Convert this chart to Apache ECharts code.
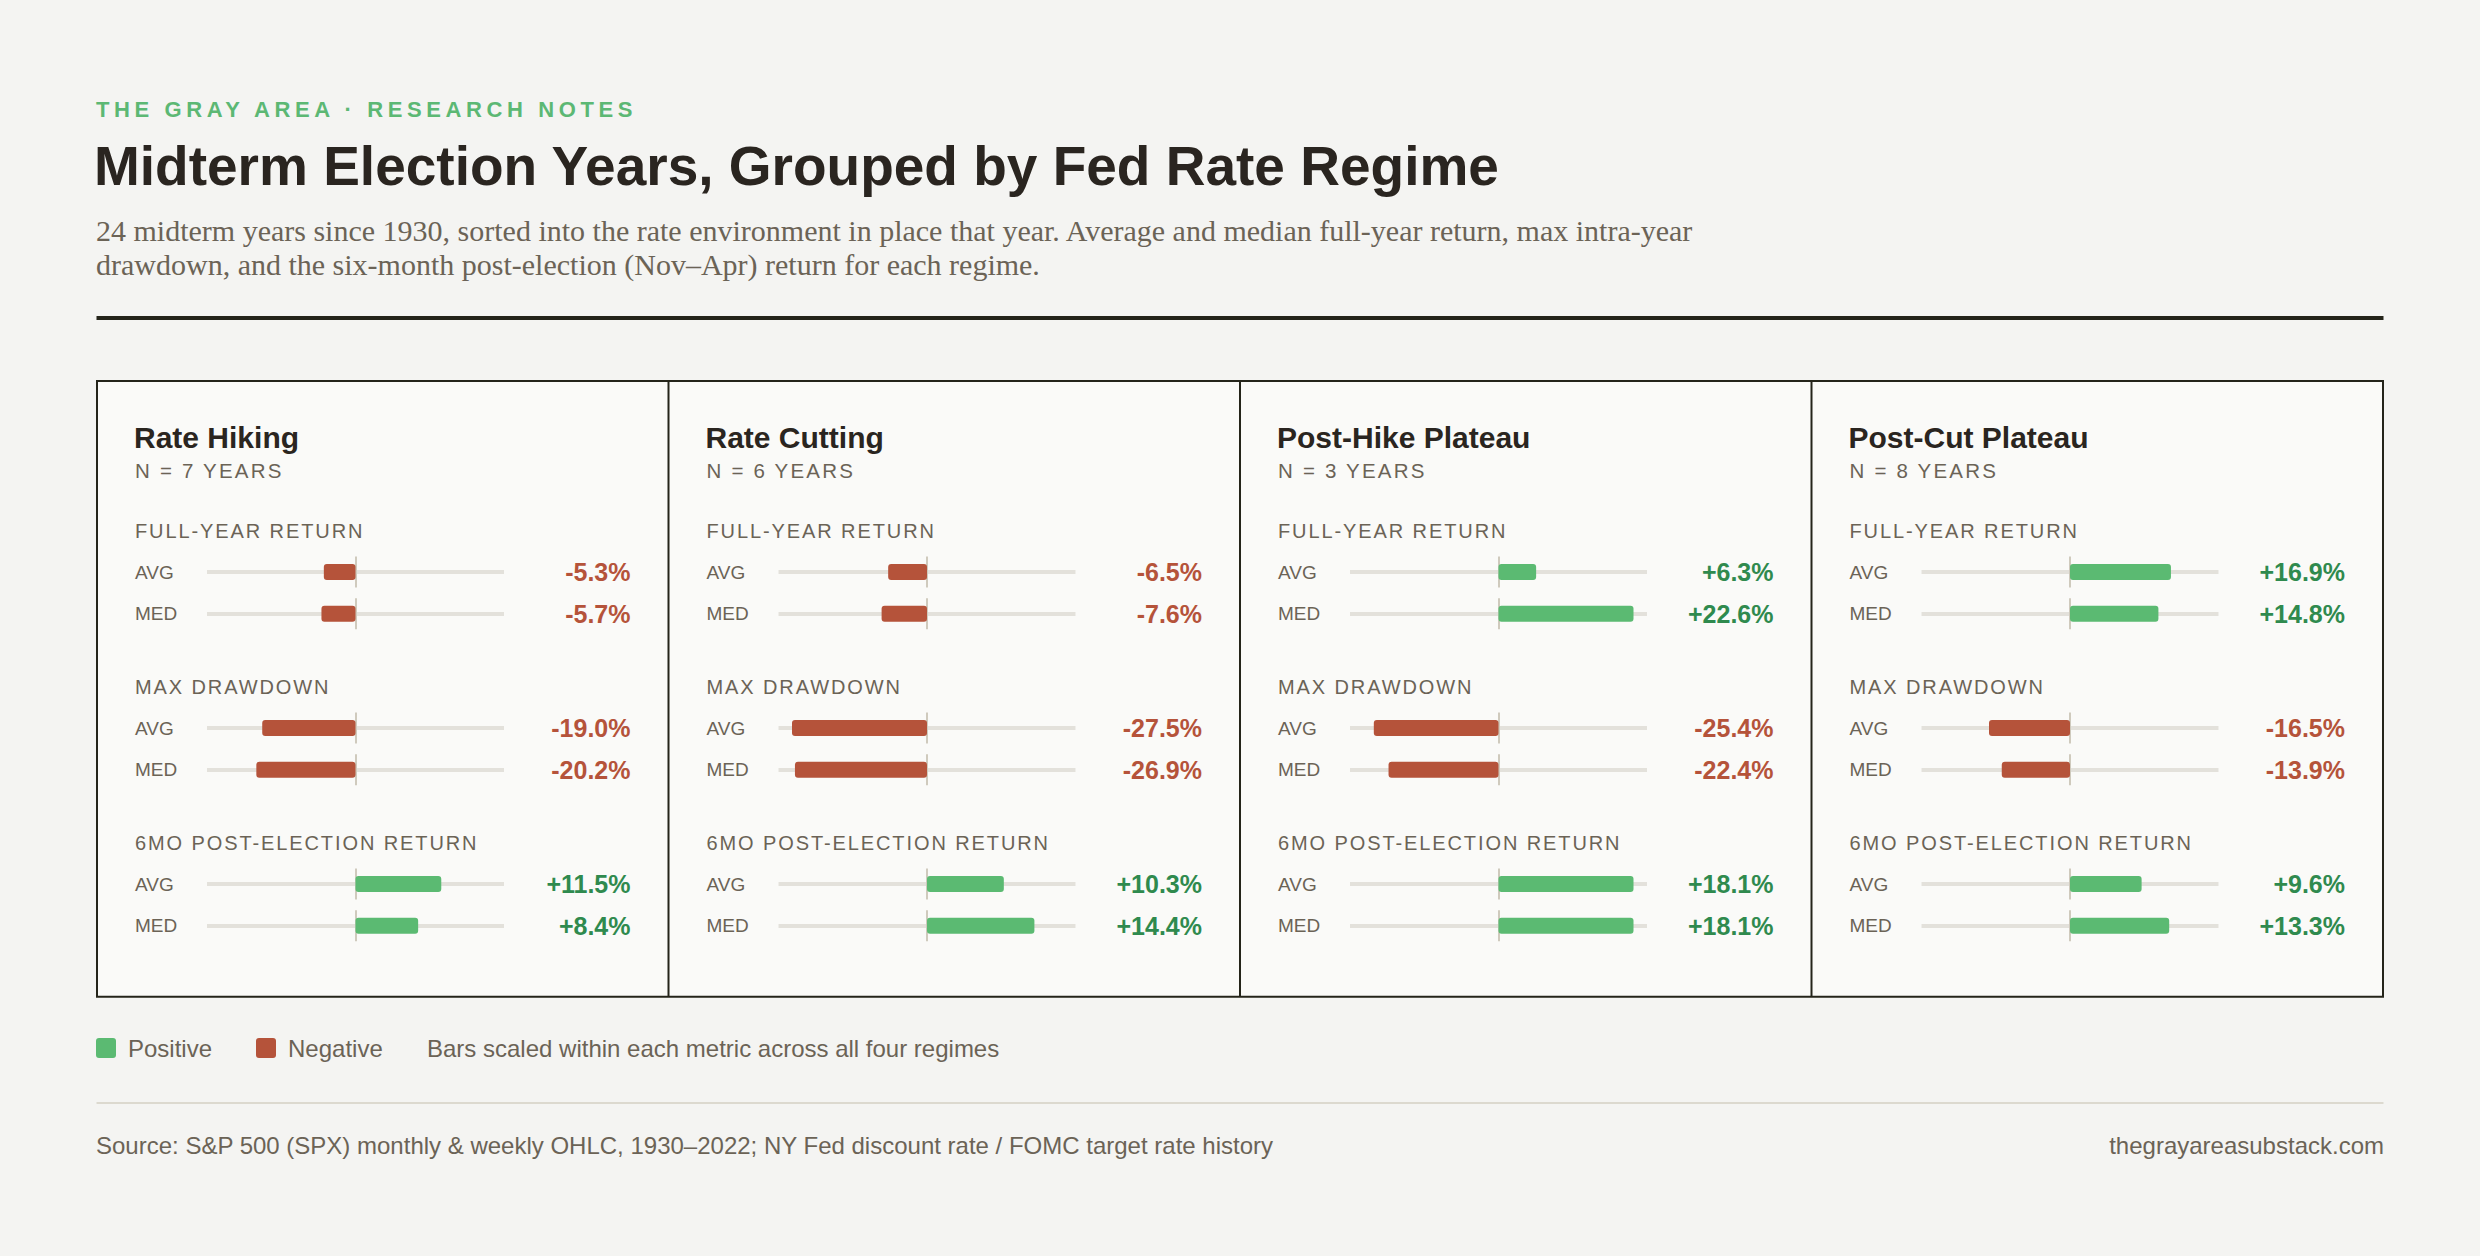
<!DOCTYPE html>
<html>
<head>
<meta charset="utf-8">
<script src="https://cdn.jsdelivr.net/npm/echarts@6/dist/echarts.min.js"></script>
<style>
html, body { margin: 0; padding: 0; background: #f4f4f2; }
#chart { width: 2480px; height: 1256px; }
</style>
</head>
<body>
<div id="chart"></div>
<script>
// regimes and sample sizes
var regimes = ['Rate Hiking', 'Rate Cutting', 'Post-Hike Plateau', 'Post-Cut Plateau'];
var yearCounts = [7, 6, 3, 8];
var metricNames = ['FULL-YEAR RETURN', 'MAX DRAWDOWN', '6MO POST-ELECTION RETURN'];
var rowLabels = ['AVG', 'MED'];

// values in %, one per regime
var fullYearAvg = [-5.3, -6.5, 6.3, 16.9];
var fullYearMed = [-5.7, -7.6, 22.6, 14.8];
var drawdownAvg = [-19.0, -27.5, -25.4, -16.5];
var drawdownMed = [-20.2, -26.9, -22.4, -13.9];
var postElecAvg = [11.5, 10.3, 18.1, 9.6];
var postElecMed = [8.4, 14.4, 18.1, 13.3];

var metricAvg = [fullYearAvg, drawdownAvg, postElecAvg];
var metricMed = [fullYearMed, drawdownMed, postElecMed];

var FONT = "'Liberation Sans', Arial, sans-serif";
var SERIF = "'Liberation Serif', 'Times New Roman', serif";
var GRAY = '#6b6356';
var DARK = '#2a2520';
var LINE = '#24241a';
var GREEN = '#5bba72';
var GREEN_TXT = '#2f8a4e';
var RED = '#b5533a';
var TRACK = '#e3e1db';
var ZERO = '#cfcabd';

var PANEL_X = 97, PANEL_W = 571.5;
var ROW_Y0 = 572, ROW_GAP = 41.8, SECTION_GAP = 156;

// bars scaled within each metric across all regimes
var ranges = metricAvg.map(function (a, m) {
  var all = a.concat(metricMed[m]);
  return 1.1 * Math.max.apply(null, all.map(Math.abs));
});

function fmt(v) {
  return (v > 0 ? '+' : '') + v.toFixed(1) + '%';
}

function txt(x, cy, text, size, color, weight, align, family) {
  return {
    type: 'text', x: x, y: cy, silent: true,
    style: {
      text: text, fill: color,
      font: (weight || 'normal') + ' ' + size + 'px ' + (family || FONT),
      align: align || 'left', verticalAlign: 'middle'
    }
  };
}

var spacingFor = {};
spacingFor['THE GRAY AREA · RESEARCH NOTES'] = 4.6;
metricNames.forEach(function (n) { spacingFor[n] = 1.9; });

var graphics = [];
graphics.push(txt(96, 109.5, 'THE GRAY AREA · RESEARCH NOTES', 22, '#5cb874', 'bold'));
graphics.push(txt(94, 166, 'Midterm Election Years, Grouped by Fed Rate Regime', 55, DARK, 'bold'));
graphics.push(txt(96, 230.5, '24 midterm years since 1930, sorted into the rate environment in place that year. Average and median full-year return, max intra-year', 30, GRAY, 'normal', 'left', SERIF));
graphics.push(txt(96, 264.5, 'drawdown, and the six-month post-election (Nov\u2013Apr) return for each regime.', 30, GRAY, 'normal', 'left', SERIF));
graphics.push({ type: 'rect', silent: true, shape: { x: 96.5, y: 316, width: 2287, height: 4 }, style: { fill: LINE } });

// panel box
graphics.push({ type: 'rect', silent: true, shape: { x: 97, y: 381, width: PANEL_W * 4, height: 615.7 }, style: { fill: '#fafaf8', stroke: LINE, lineWidth: 2 } });
for (var d = 1; d < 4; d++) {
  graphics.push({ type: 'line', silent: true, shape: { x1: PANEL_X + PANEL_W * d, y1: 381, x2: PANEL_X + PANEL_W * d, y2: 996.7 }, style: { stroke: LINE, lineWidth: 2 } });
}

var grids = [], xAxes = [], yAxes = [], series = [];

regimes.forEach(function (name, p) {
  var L = PANEL_X + PANEL_W * p;
  var nText = 'N = ' + yearCounts[p] + ' YEARS';
  spacingFor[nText] = 2.2;
  graphics.push(txt(L + 37, 437.5, name, 30, DARK, 'bold'));
  graphics.push(txt(L + 38, 470.5, nText, 20.5, GRAY));
  metricNames.forEach(function (mName, m) {
    graphics.push(txt(L + 38, 531 + SECTION_GAP * m, mName, 20, GRAY));
    var R = ranges[m];
    [metricAvg[m], metricMed[m]].forEach(function (arr, r) {
      var v = arr[p];
      var g = grids.length;
      var cy = ROW_Y0 + SECTION_GAP * m + ROW_GAP * r;
      grids.push({ left: L + 110, top: cy - 15.5, width: 297, height: 31 });
      xAxes.push({ type: 'value', gridIndex: g, min: -R, max: R, show: false });
      yAxes.push({
        type: 'category', gridIndex: g, position: 'left', data: [rowLabels[r]],
        axisLine: { show: false }, axisTick: { show: false }, splitLine: { show: false },
        axisLabel: { align: 'left', margin: 72, color: GRAY, fontSize: 19, fontFamily: FONT }
      });
      yAxes.push({
        type: 'category', gridIndex: g, position: 'right', data: [fmt(v)],
        axisLine: { show: false }, axisTick: { show: false }, splitLine: { show: false },
        axisLabel: {
          align: 'right', margin: 126.5, fontSize: 25, fontWeight: 'bold', fontFamily: FONT,
          color: v < 0 ? RED : GREEN_TXT, padding: [3, 0, 0, 0]
        }
      });
      series.push({
        type: 'bar', xAxisIndex: g, yAxisIndex: 2 * g, barWidth: 16, z: 4,
        silent: true,
        data: [{ value: v, itemStyle: { color: v < 0 ? RED : GREEN, borderRadius: 3 } }],
        markLine: {
          silent: true, symbol: 'none', z: 1, animation: false,
          label: { show: false },
          data: [
            { yAxis: rowLabels[r], lineStyle: { color: TRACK, width: 4, type: 'solid' } },
            { xAxis: 0, lineStyle: { color: ZERO, width: 2, type: 'solid' } }
          ]
        }
      });
    });
  });
});

// legend and footer
graphics.push({ type: 'rect', silent: true, shape: { x: 96, y: 1038, width: 20, height: 20, r: 3 }, style: { fill: GREEN } });
graphics.push(txt(128, 1048, 'Positive', 24, GRAY));
graphics.push({ type: 'rect', silent: true, shape: { x: 256, y: 1038, width: 20, height: 20, r: 3 }, style: { fill: RED } });
graphics.push(txt(288, 1048, 'Negative', 24, GRAY));
graphics.push(txt(427, 1048, 'Bars scaled within each metric across all four regimes', 24, GRAY));
graphics.push({ type: 'rect', silent: true, shape: { x: 96.5, y: 1102, width: 2287, height: 2 }, style: { fill: '#dcd9cf' } });
graphics.push(txt(96, 1145.5, 'Source: S&P 500 (SPX) monthly & weekly OHLC, 1930\u20132022; NY Fed discount rate / FOMC target rate history', 24, GRAY));
graphics.push(txt(2384, 1145.5, 'thegrayareasubstack.com', 24, GRAY, 'normal', 'right'));

var chart = echarts.init(document.getElementById('chart'), null, { renderer: 'svg' });
chart.setOption({
  backgroundColor: '#f4f4f2',
  animation: false,
  graphic: { elements: graphics },
  grid: grids,
  xAxis: xAxes,
  yAxis: yAxes,
  series: series
});

function applySpacing() {
  document.querySelectorAll('#chart text').forEach(function (t) {
    var s = spacingFor[t.textContent];
    if (s) t.setAttribute('letter-spacing', s + 'px');
  });
}
applySpacing();
chart.on('finished', applySpacing);
setTimeout(applySpacing, 50);
</script>
</body>
</html>
